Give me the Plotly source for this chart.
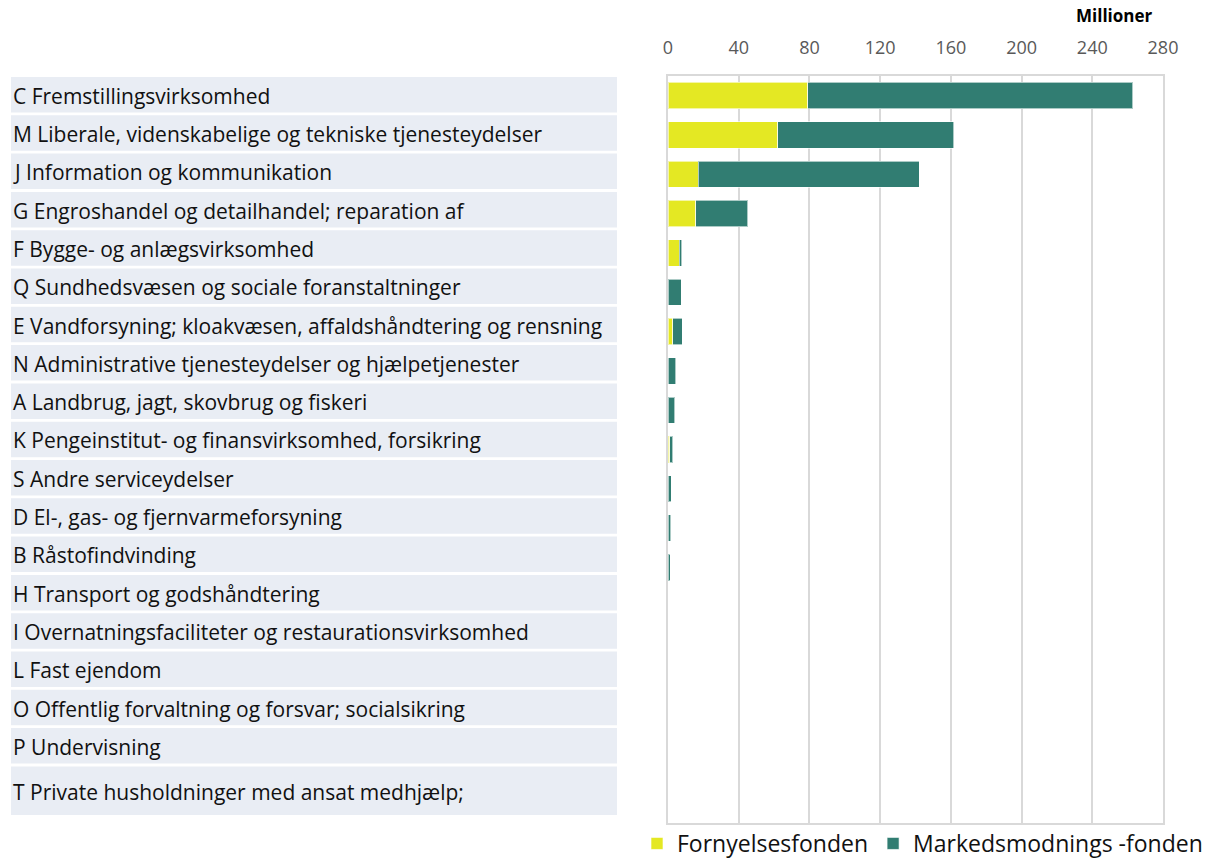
import plotly.graph_objects as go

categories = [
    "C Fremstillingsvirksomhed",
    "M Liberale, videnskabelige og tekniske tjenesteydelser",
    "J Information og kommunikation",
    "G Engroshandel og detailhandel; reparation af",
    "F Bygge- og anlægsvirksomhed",
    "Q Sundhedsvæsen og sociale foranstaltninger",
    "E Vandforsyning; kloakvæsen, affaldshåndtering og rensning",
    "N Administrative tjenesteydelser og hjælpetjenester",
    "A Landbrug, jagt, skovbrug og fiskeri",
    "K Pengeinstitut- og finansvirksomhed, forsikring",
    "S Andre serviceydelser",
    "D El-, gas- og fjernvarmeforsyning",
    "B Råstofindvinding",
    "H Transport og godshåndtering",
    "I Overnatningsfaciliteter og restaurationsvirksomhed",
    "L Fast ejendom",
    "O Offentlig forvaltning og forsvar; socialsikring",
    "P Undervisning",
    "T Private husholdninger med ansat medhjælp;",
]
fornyelsesfonden = [79, 62, 17, 15.6, 6.4, 0, 2.6, 0, 0, 1.1, 0, 0, 0, 0, 0, 0, 0, 0, 0]
markedsmodningsfonden = [184, 99.5, 125, 29.4, 1.3, 7.5, 5.5, 4.3, 3.8, 1.7, 1.7, 1.5, 1.3, 0, 0, 0, 0, 0, 0]
x_ticks = [0, 40, 80, 120, 160, 200, 240, 280]

FONT = "Open Sans"
W, H = 1209, 861
# plot area in screen pixels
PX0, PX1, PY0, PY1 = 668, 1163, 76, 823
L, R, T, B = PX0, W - PX1, PY0, H - PY1
plot_w = PX1 - PX0
plot_h = PY1 - PY0

def px_to_paper_x(px):
    return (px - PX0) / plot_w

def py_to_paper_y(py):
    return (PY1 - py) / plot_h

fig = go.Figure()
fig.add_trace(go.Bar(
    y=categories, x=fornyelsesfonden, orientation="h", name="Fornyelsesfonden",
    marker=dict(color="#E4E823", line=dict(color="rgba(255,255,255,0.6)", width=1)),
))
fig.add_trace(go.Bar(
    y=categories, x=markedsmodningsfonden, orientation="h", name="Markedsmodnings -fonden",
    marker=dict(color="#317D72", line=dict(color="rgba(255,255,255,0.6)", width=1)),
))

# label column: boxes and left-aligned text
shapes = []
annotations = []
pitch = 38.3
for i, cat in enumerate(categories):
    top = 77 + i * pitch
    if i == len(categories) - 1:
        bottom = 815
    else:
        bottom = top + 35.5
    shapes.append(dict(
        type="rect", xref="paper", yref="paper",
        x0=px_to_paper_x(11), x1=px_to_paper_x(617),
        y0=py_to_paper_y(bottom), y1=py_to_paper_y(top),
        fillcolor="#E9EDF4", line=dict(width=0), layer="below",
    ))
    annotations.append(dict(
        text=cat, xref="paper", yref="paper",
        x=px_to_paper_x(11), y=py_to_paper_y((top + bottom) / 2 + 1),
        xanchor="left", yanchor="middle", showarrow=False,
        font=dict(family=FONT, size=21, color="#111111"),
    ))

annotations.append(dict(
    text="<b>Millioner</b>", xref="paper", yref="paper",
    x=px_to_paper_x(1114), y=py_to_paper_y(16),
    xanchor="center", yanchor="middle", showarrow=False,
    font=dict(family=FONT, size=17, color="#000000"),
))

fig.update_layout(
    width=W, height=H,
    margin=dict(l=L, r=R, t=T, b=B, pad=0, autoexpand=False),
    barmode="stack", bargap=0.33,
    plot_bgcolor="white", paper_bgcolor="white",
    font=dict(family=FONT, color="#595959"),
    shapes=shapes, annotations=annotations,
    legend=dict(
        orientation="h", x=px_to_paper_x(637), y=py_to_paper_y(822),
        xanchor="left", yanchor="top", traceorder="normal",
        font=dict(family=FONT, size=23, color="#111111"),
        itemwidth=30, bgcolor="rgba(0,0,0,0)",
    ),
    xaxis=dict(
        side="top", range=[0, 280], tickvals=x_ticks,
        showgrid=True, gridcolor="#D9D9D9", gridwidth=2,
        showline=True, linecolor="#D9D9D9", linewidth=2, mirror=True,
        zeroline=False, ticks="", ticklabelstandoff=13,
        tickfont=dict(family=FONT, size=18, color="#595959"),
    ),
    yaxis=dict(
        categoryorder="array", categoryarray=categories,
        range=[len(categories) - 0.5, -0.5],
        showticklabels=False, showgrid=False,
        showline=True, linecolor="#D9D9D9", linewidth=2, mirror=True,
        ticks="",
    ),
)

fig.write_html(
    "out.html",
    config={"displayModeBar": False},
    post_script="document.body.style.margin='0px';document.body.style.overflow='hidden';",
)
